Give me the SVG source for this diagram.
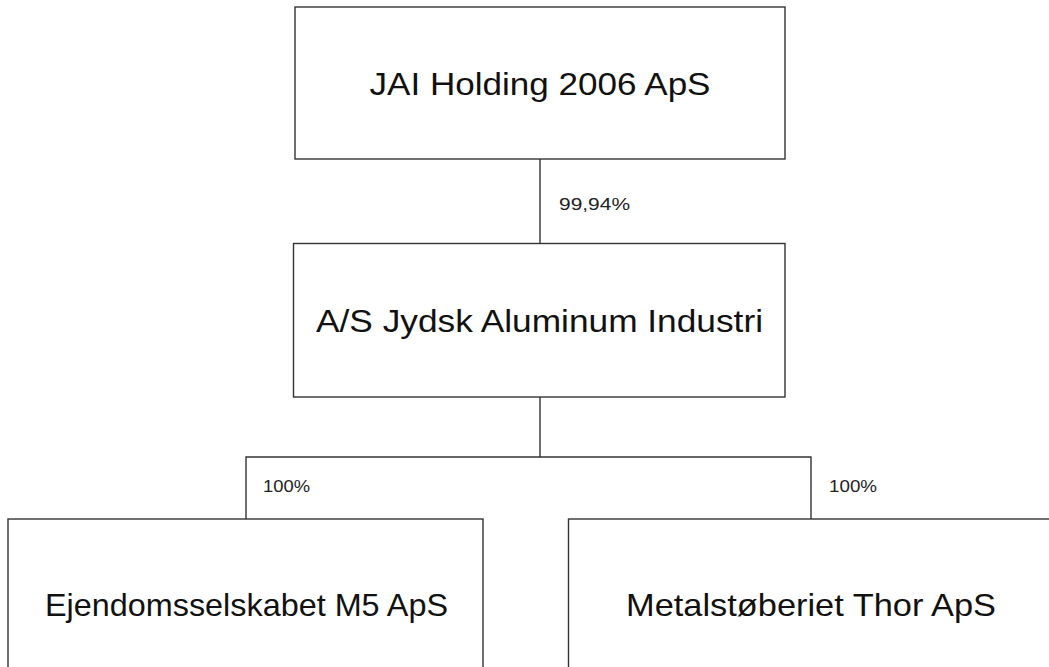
<svg xmlns="http://www.w3.org/2000/svg" width="1049" height="667" viewBox="0 0 1049 667">
<style>
.box{fill:#fff;stroke:#333;stroke-width:1.4}
.name{font-family:"Liberation Sans",Arial,sans-serif;font-size:32px;fill:#111;text-anchor:middle}
.pct{font-family:"Liberation Sans",Arial,sans-serif;font-size:16px;fill:#222}
.conn{fill:none;stroke:#333;stroke-width:1.4}
</style>
<rect width="1049" height="667" fill="#fff"/>
<g id="connectors">
<line class="conn" x1="540" y1="159" x2="540" y2="243"/>
<line class="conn" x1="540" y1="397" x2="540" y2="457"/>
<polyline class="conn" points="246,519 246,457 811,457 811,519"/>
<text class="pct" x="559" y="210" textLength="71" lengthAdjust="spacingAndGlyphs">99,94%</text>
<text class="pct" x="263" y="492" textLength="47" lengthAdjust="spacingAndGlyphs">100%</text>
<text class="pct" x="829" y="492" textLength="48" lengthAdjust="spacingAndGlyphs">100%</text>
</g>
<g id="node-jai">
<rect class="box" x="295" y="7" width="490" height="152"/>
<text class="name" x="540" y="95" textLength="341" lengthAdjust="spacingAndGlyphs">JAI Holding 2006 ApS</text>
</g>
<g id="node-aluminum">
<rect class="box" x="293.5" y="243.5" width="491.5" height="153.5"/>
<text class="name" x="539.5" y="332" textLength="447" lengthAdjust="spacingAndGlyphs">A/S Jydsk Aluminum Industri</text>
</g>
<g id="node-m5">
<rect class="box" x="8" y="519" width="475" height="160"/>
<text class="name" x="246.5" y="616" textLength="403" lengthAdjust="spacingAndGlyphs">Ejendomsselskabet M5 ApS</text>
</g>
<g id="node-thor">
<rect class="box" x="568.5" y="519" width="500" height="160"/>
<text class="name" x="811" y="616" textLength="370" lengthAdjust="spacingAndGlyphs">Metalstøberiet Thor ApS</text>
</g>
</svg>
